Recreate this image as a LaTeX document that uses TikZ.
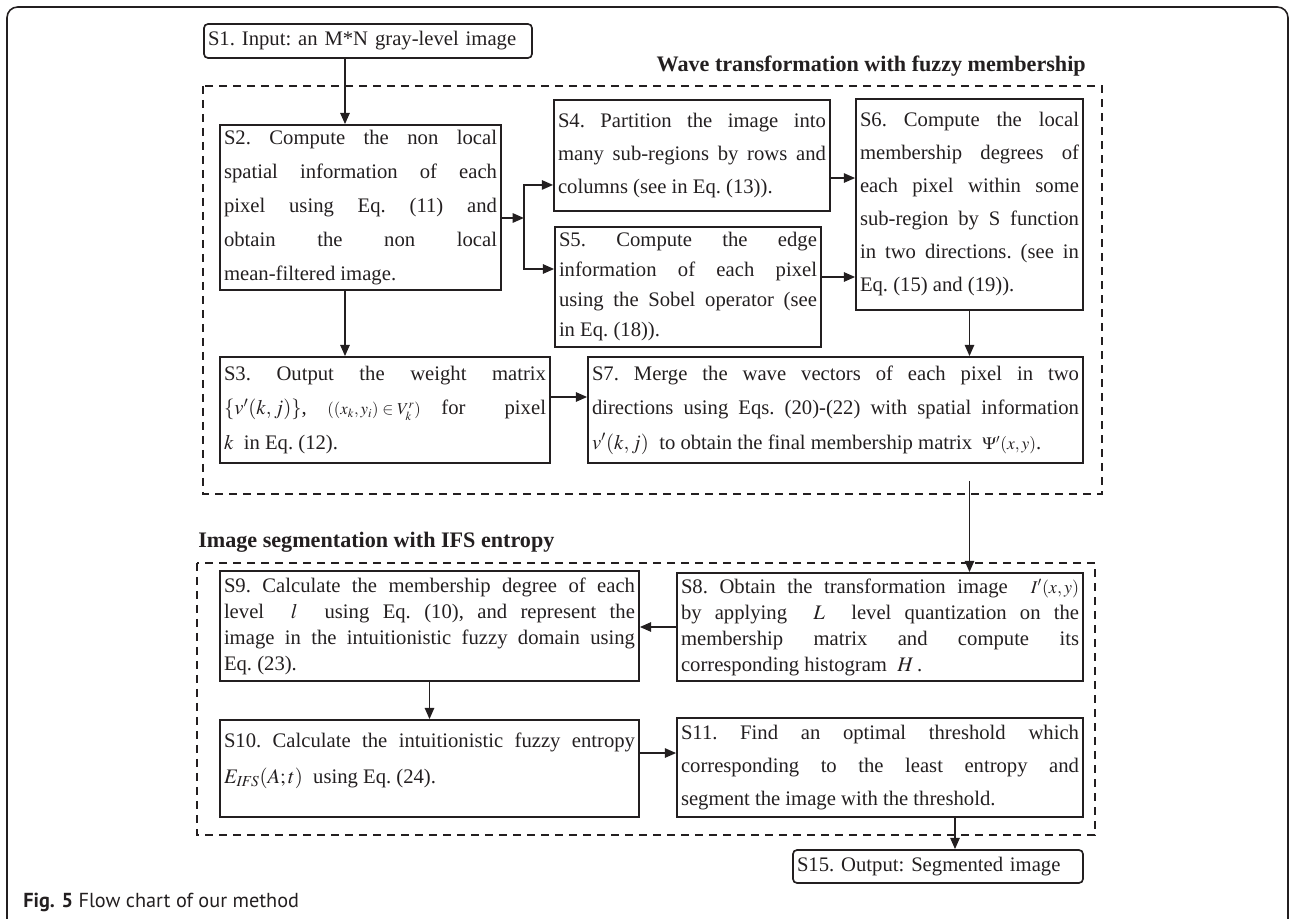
\documentclass[tikz,border=0pt]{standalone}
\usepackage{mathptmx}
\usepackage{fontspec}
\setmainfont{Liberation Serif}
\newfontfamily\captionfont{PT Sans}
\usetikzlibrary{arrows.meta,calc}
\definecolor{FigInk}{HTML}{231F20}
\tolerance=10000
\hbadness=10000

\begin{document}
\begin{tikzpicture}[
    x=0.75pt,y=-0.75pt,
    stepbox/.style={draw=FigInk,line width=1.25pt,inner xsep=3pt,inner ysep=2pt,align=justify,text=FigInk,
      font=\fontsize{15.5}{#1}\selectfont,execute at begin node=\frenchspacing},
    stepbox/.default=24.75pt,
    endbox/.style={draw=FigInk,line width=1.25pt,rounded corners=3pt,inner xsep=3pt,align=left,text=FigInk,
      font=\fontsize{15.5}{18}\selectfont,execute at begin node=\frenchspacing},
    grouptitle/.style={inner sep=0pt,text=FigInk,font=\bfseries\fontsize{16.6}{20}\selectfont},
    groupbox/.style={draw=FigInk,line width=0.9pt,dash pattern=on 6pt off 4.5pt},
    arrow/.style={-{Triangle[length=8.5pt,width=7pt]},line width=1.4pt,draw=FigInk}
  ]
  \useasboundingbox (0,0) rectangle (1290,919);
  \draw[line width=1.2pt,rounded corners=8pt,draw=FigInk] (7,7) rectangle (1288,940);

  % groups
  \draw[groupbox] (203,86) rectangle (1102,494);
  \draw[groupbox] (197,563) rectangle (1095,835);
  \node[grouptitle,anchor=base east] (wavetitle) at (1086,72) {Wave transformation with fuzzy membership};
  \node[grouptitle,anchor=base west] (segtitle) at (198,548) {Image segmentation with IFS entropy};

  % steps
  \node[endbox,text width=240pt,minimum height=25.5pt] (input) at (368,41) {S1. Input: an M*N gray-level image};
  \node[stepbox=25.5pt,text width=204.75pt,minimum height=123.75pt] (nonlocal) at (360.5,207.5)
    {S2. Compute the non local\linebreak spatial information of each\linebreak pixel using Eq.~(11) and\linebreak obtain the non local\linebreak mean-filtered image.};
  \node[stepbox,text width=201pt,minimum height=83.25pt] (partition) at (692,155.5)
    {S4. Partition the image into\linebreak many sub-regions by rows and\linebreak columns (see in Eq.~(13)).};
  \node[stepbox=22.5pt,text width=193.5pt,minimum height=90pt] (edge) at (688,287)
    {S5. Compute the edge\linebreak information of each pixel\linebreak using the Sobel operator (see\linebreak in Eq.~(18)).};
  \node[stepbox,text width=164.25pt,minimum height=158.25pt] (localmem) at (969.5,204.5)
    {S6. Compute the local\linebreak membership degrees of\linebreak each pixel within some\linebreak sub-region by S function\linebreak in two directions. (see in\linebreak Eq.~(15) and (19)).};
  \node[stepbox=26pt,text width=241.5pt,minimum height=79.5pt] (weight) at (385,410)
    {S3. Output the weight matrix\linebreak \mbox{$\{v'(k,j)\}$,}\quad\mbox{\fontsize{12.5}{12.5}\selectfont$((x_k,y_i)\in V_k^{r})$}\quad for pixel\linebreak $k$\ \ in Eq.~(12).};
  \node[stepbox=26pt,text width=365.25pt,minimum height=79.5pt] (merge) at (835.5,410)
    {S7. Merge the wave vectors of each pixel in two\linebreak directions using Eqs.~(20)-(22) with spatial information\linebreak \mbox{$v'(k,j)$}\ \ to obtain the final membership matrix\ \ \mbox{\fontsize{13}{13}\selectfont$\Psi'(x,y)$}.};
  \node[stepbox=19.5pt,text width=298.5pt,minimum height=81pt] (quantize) at (880,627)
    {S8. Obtain the transformation image\ \ \mbox{\fontsize{13.5}{13.5}\selectfont$I'(x,y)$}\linebreak by applying\ \ $L$\ \ level quantization on the\linebreak membership matrix and compute its\linebreak corresponding histogram\ \ $H$\,.};
  \node[stepbox=19.5pt,text width=308.25pt,minimum height=82.5pt] (ifsdomain) at (429.5,626)
    {S9. Calculate the membership degree of each\linebreak level\ \ $l$\ \ using Eq.~(10), and represent the\linebreak image in the intuitionistic fuzzy domain using\linebreak Eq.~(23).};
  \node[stepbox=27pt,text width=308.25pt,minimum height=72.75pt] (entropy) at (429.5,768.5)
    {S10. Calculate the intuitionistic fuzzy entropy\linebreak\ \mbox{$E_{\mathit{IFS}}(A;t)$}\ \ using Eq.~(24).\par\vspace{12pt}};
  \node[stepbox,text width=298.5pt,minimum height=74.25pt] (threshold) at (880,767.5)
    {S11. Find an optimal threshold which\linebreak corresponding to the least entropy and\linebreak segment the image with the threshold.};
  \node[endbox,text width=211.5pt,minimum height=24.75pt] (output) at (938,866.5) {S15. Output: Segmented image};

  \node[anchor=base west,inner sep=0pt,text=FigInk,font=\captionfont\fontsize{15.2}{18}\selectfont] (caption) at (23,907)
    {\textbf{Fig. 5} Flow chart of our method};

  % connectors
  \coordinate (spine) at (345,0);
  \coordinate (fork) at (524,218);
  \draw[arrow] (input.south -| spine) -- (nonlocal.north -| spine);
  \draw[arrow] (nonlocal.south -| spine) -- (weight.north -| spine);
  \draw[arrow] (nonlocal.east |- fork) -- (fork);
  \draw[arrow] (fork) |- ([yshift=-22.1pt]partition.west);
  \draw[arrow] (fork) |- ([yshift=13.5pt]edge.west);
  \draw[arrow] ([yshift=-16.9pt]partition.east) -- ([yshift=-16.9pt]partition.east -| localmem.west);
  \draw[arrow] ([yshift=7.5pt]edge.east) -- ([yshift=7.5pt]edge.east -| localmem.west);
  \draw[arrow] (localmem.south) -- (localmem.south |- merge.north);
  \draw[arrow] ([yshift=9.75pt]weight.east) -- ([yshift=9.75pt]weight.east -| merge.west);
  \draw[arrow,shorten <=12.75pt] (merge.south -| localmem) -- (quantize.north -| localmem);
  \draw[arrow] (quantize.west) -- (quantize.west -| ifsdomain.east);
  \draw[arrow] (ifsdomain) -- (entropy);
  \draw[arrow] ([yshift=11.6pt]entropy.east) -- ([yshift=11.6pt]entropy.east -| threshold.west);
  \draw[arrow] ([xshift=56.25pt]threshold.south) -- ([xshift=56.25pt]threshold.south |- output.north);
\end{tikzpicture}
\end{document}
